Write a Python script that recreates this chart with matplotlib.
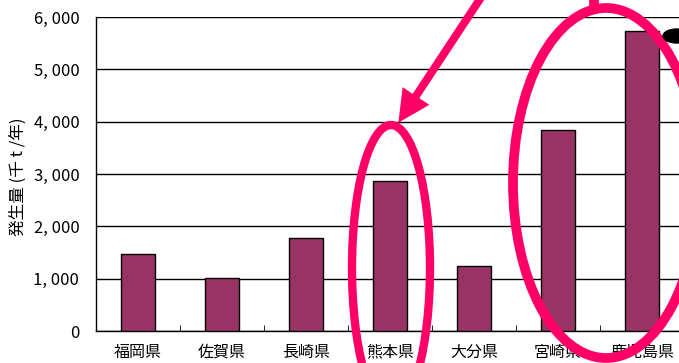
import numpy as np
import matplotlib
matplotlib.use("Agg")
import matplotlib.pyplot as plt
from matplotlib.patches import Ellipse, FancyArrow
from matplotlib.ticker import FuncFormatter

plt.rcParams["font.family"] = ["Noto Sans CJK JP", "DejaVu Sans"]

# ── Data ──────────────────────────────────────────────────────────────────────
prefectures = ["福岡県", "佐賀県", "長崎県", "熊本県", "大分県", "宮崎県", "鹿児島県"]
amounts = [1470, 1015, 1780, 2870, 1245, 3840, 5735]   # 千t/年
y_ticks = [0, 1000, 2000, 3000, 4000, 5000, 6000]

BAR_COLOUR = "#993366"
PINK = "#FF0066"

W, H = 679, 363
fig = plt.figure(figsize=(W / 100, H / 100), dpi=100)

# axes run off the right edge like the original screenshot
left, right, top, bottom = 96, 684, 17, 331
ax = fig.add_axes([left / W, (H - bottom) / H, (right - left) / W, (bottom - top) / H])

x = np.arange(len(prefectures))
ax.bar(x, amounts, width=0.4, color=BAR_COLOUR, edgecolor="black", linewidth=1, zorder=3)

ax.set_xlim(-0.5, len(prefectures) - 0.5)
ax.set_ylim(0, 6000)
ax.set_yticks(y_ticks)
ax.yaxis.set_major_formatter(FuncFormatter(lambda v, _: f"{int(v):,}".replace(",", ", ")))
ax.tick_params(axis="y", length=0, pad=12, labelsize=12)
ax.grid(axis="y", color="black", linewidth=1, zorder=1)

ax.set_xticks(x)
ax.set_xticklabels(prefectures, fontsize=11.5)
ax.tick_params(axis="x", which="major", length=0, pad=9)
ax.set_xticks(np.arange(len(prefectures) + 1) - 0.5, minor=True)
ax.tick_params(axis="x", which="minor", direction="in", length=4, color="black")

for side in ["top", "right"]:
    ax.spines[side].set_visible(False)
for side in ["left", "bottom"]:
    ax.spines[side].set_color("black")
    ax.spines[side].set_linewidth(1)

# y-axis title sits well left of the tick labels in the original
fig.text(18 / W, (H - 177) / H, "発生量 (千 t /年)", rotation=90,
         ha="center", va="center", fontsize=12)

# ── Pink hand-drawn highlights (figure pixel coords, y from top) ─────────────
overlay = fig.add_axes([0, 0, 1, 1], facecolor="none")
overlay.set_xlim(0, W)
overlay.set_ylim(H, 0)
overlay.axis("off")

overlay.add_patch(Ellipse((391, 268), 78, 286, fill=False, edgecolor=PINK, linewidth=6))
overlay.add_patch(Ellipse((606, 183), 186, 350, fill=False, edgecolor=PINK, linewidth=7))
overlay.plot([594, 594], [0, 10], color=PINK, linewidth=7, solid_capstyle="butt")
overlay.add_patch(FancyArrow(482, -4, -66, 100, width=8, head_width=32, head_length=32,
                             length_includes_head=False, color=PINK, linewidth=0))
overlay.add_patch(Ellipse((677, 36), 28, 14, color="black"))

fig.savefig("out.png", dpi=100)
